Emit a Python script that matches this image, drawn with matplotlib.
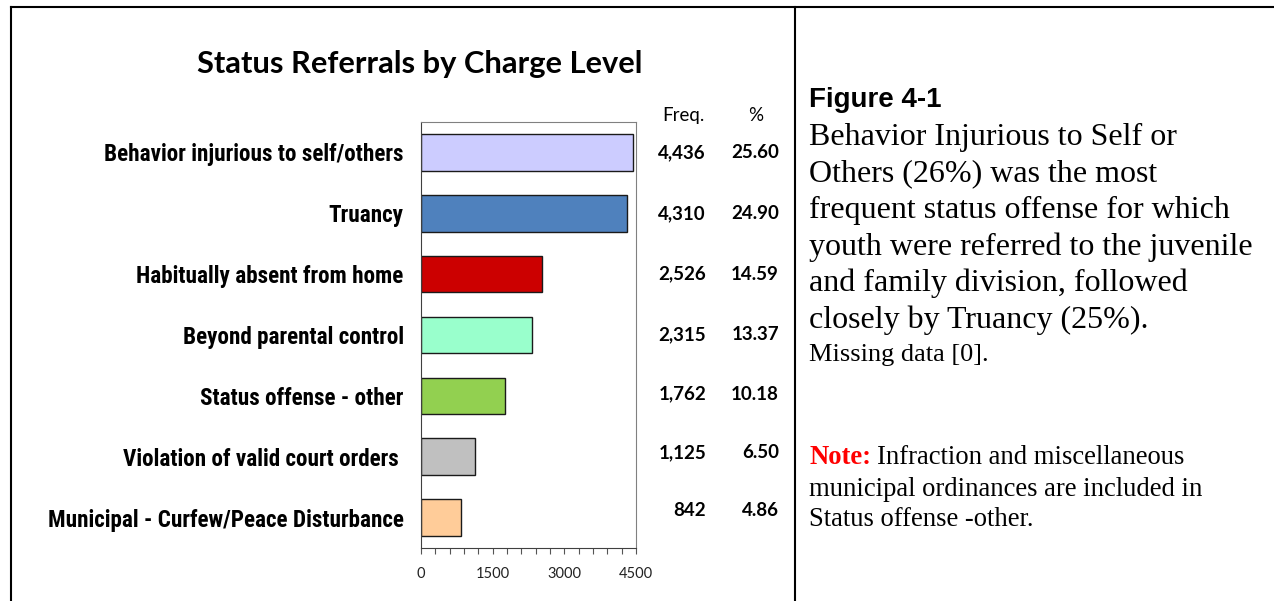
import matplotlib
matplotlib.use("Agg")
import matplotlib.pyplot as plt
from matplotlib import font_manager
from matplotlib.lines import Line2D
from matplotlib.transforms import blended_transform_factory
from matplotlib.ticker import MultipleLocator

categories = [
    "Behavior injurious to self/others",
    "Truancy",
    "Habitually absent from home",
    "Beyond parental control",
    "Status offense - other",
    "Violation of valid court orders ",
    "Municipal - Curfew/Peace Disturbance",
]
freq = [4436, 4310, 2526, 2315, 1762, 1125, 842]
pct = ["25.60", "24.90", "14.59", "13.37", "10.18", "6.50", "4.86"]
colors = ["#CCCCFF", "#4F81BD", "#CC0000", "#99FFCC", "#92D050", "#C0C0C0", "#FFCC99"]

W, H = 1274, 601
fig = plt.figure(figsize=(W / 100, H / 100), dpi=100)


def fx(px):
    return px / W


def fy(py):
    return 1 - py / H


# a narrow sans for the category labels, if one is around
names = {f.name for f in font_manager.fontManager.ttflist}
narrow = None
for cand in ["Liberation Sans Narrow", "Arial Narrow", "Roboto Condensed", "DejaVu Sans Condensed"]:
    if cand in names:
        narrow = cand
        break
label_font = dict(family=[narrow or "Liberation Sans", "DejaVu Sans"], weight="bold")

ax = fig.add_axes([fx(421), fy(548), fx(636) - fx(421), fy(122) - fy(548)])
ypos = list(range(len(categories)))
ax.barh(ypos, freq, height=0.6, color=colors, edgecolor="#1a1a1a", linewidth=1.0)
ax.set_ylim(len(categories) - 0.5, -0.5)
ax.set_xlim(0, 4500)
ax.set_yticks(ypos)
ax.set_yticklabels(categories, fontsize=15, **label_font)
ax.tick_params(axis="y", length=0, pad=12.5)
ax.xaxis.set_major_locator(MultipleLocator(1500))
ax.xaxis.set_minor_locator(MultipleLocator(300))
ax.tick_params(axis="x", which="both", direction="out", length=4, width=0.8,
               color="#555555", labelsize=10.5, pad=10)
for lab in ax.get_xticklabels():
    lab.set_fontfamily(["Lato", "DejaVu Sans"])
    lab.set_color("#222222")
for side in ["top", "right"]:
    ax.spines[side].set_color("#808080")
    ax.spines[side].set_linewidth(0.8)
for side in ["left", "bottom"]:
    ax.spines[side].set_color("#404040")
    ax.spines[side].set_linewidth(0.8)

# fit the label size so the longest label spans the same width as the reference
fig.canvas.draw()
r = fig.canvas.get_renderer()
widest = max(t.get_window_extent(r).width for t in ax.get_yticklabels())
size = 15 * 357 / widest
for t in ax.get_yticklabels():
    t.set_fontsize(size)

# frequency and percent columns
tr = blended_transform_factory(fig.transFigure, ax.transData)
fig.text(fx(683), fy(115), "Freq.", ha="center", va="center", fontsize=13.5, family="Lato")
fig.text(fx(756), fy(115), "%", ha="center", va="center", fontsize=13.5, family="Lato")
shift = [0, 0, 0, 0, -0.03, -0.07, -0.11]
for i, (f, p) in enumerate(zip(freq, pct)):
    ax.text(fx(706), i + shift[i], f"{f:,}", transform=tr, ha="right", va="center",
            fontsize=13.5, fontweight="bold", family="Lato")
    ax.text(fx(779), i + shift[i], p, transform=tr, ha="right", va="center",
            fontsize=13.5, fontweight="bold", family="Lato")

fig.text(fx(420), fy(64), "Status Referrals by Charge Level", ha="center", va="center",
         fontsize=22.2, fontweight="bold", family="Lato")

# right-hand commentary
fig.text(fx(809), fy(100), "Figure 4-1", ha="left", va="center", fontsize=20,
         fontweight="bold", family="Liberation Sans")
body = [
    "Behavior Injurious to Self or",
    "Others (26%) was the most",
    "frequent status offense for which",
    "youth were referred to the juvenile",
    "and family division, followed",
    "closely by Truancy (25%).",
]
for k, line in enumerate(body):
    fig.text(fx(809), fy(137 + 36.6 * k), line, ha="left", va="center", fontsize=23,
             family="Liberation Serif")
fig.text(fx(809), fy(355), "Missing data [0].", ha="left", va="center", fontsize=19,
         family="Liberation Serif")

note = fig.text(fx(809), fy(458), "Note:", ha="left", va="center", fontsize=19.2,
                fontweight="bold", color="#FF0000", family="Liberation Serif")
fig.canvas.draw()
bb = note.get_window_extent()
fig.text(bb.x1 / W + fx(6), fy(458), "Infraction and miscellaneous", ha="left", va="center",
         fontsize=19.2, family="Liberation Serif")
fig.text(fx(809), fy(489), "municipal ordinances are included in", ha="left", va="center",
         fontsize=19.2, family="Liberation Serif")
fig.text(fx(809), fy(519), "Status offense -other.", ha="left", va="center",
         fontsize=19.2, family="Liberation Serif")

# table borders
lw = 1.5
fig.add_artist(Line2D([fx(11), 1], [fy(7), fy(7)], color="black", lw=lw))
fig.add_artist(Line2D([fx(11), fx(11)], [0, fy(7)], color="black", lw=lw))
fig.add_artist(Line2D([fx(795), fx(795)], [0, fy(7)], color="black", lw=lw))

fig.savefig("out.png", dpi=100, facecolor="white")
